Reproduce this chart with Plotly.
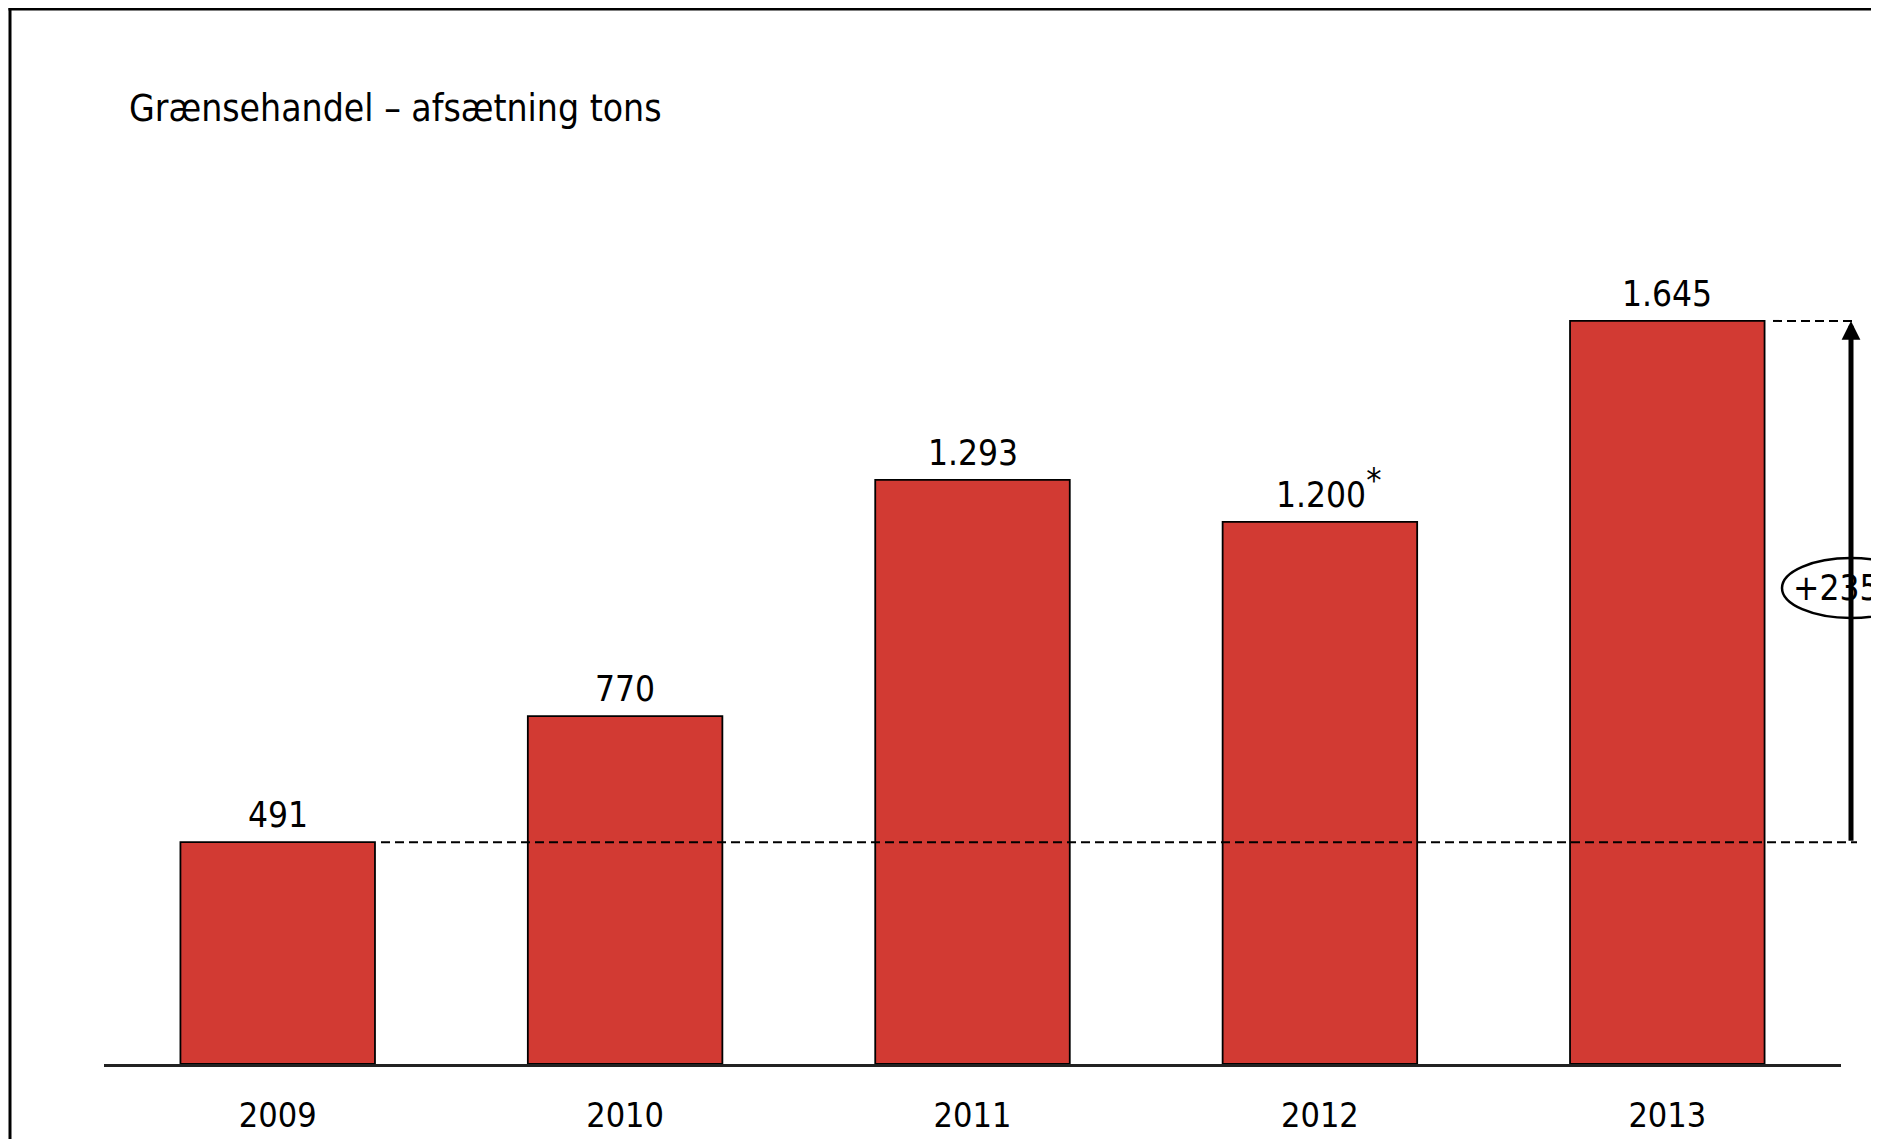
import plotly.graph_objects as go

years = ["2009", "2010", "2011", "2012", "2013"]
tons = [491, 770, 1293, 1200, 1645]
labels = ["491", "770", "1.293",
          "1.200<sup><span style='font-size:34px'>*</span></sup>", "1.645"]
label_xshift = [0, 0, 0, 9, 0]
title_text = "Grænsehandel – afsætning tons"
growth_text = "+235%"

FONT = "DejaVu Sans Condensed, Liberation Sans Narrow, Arial Narrow, sans-serif"
RED = "#D23A33"

OFF = 8  # page body margin
W, H = 1879 - OFF, 1139 - OFF
L, R, T, B = 104 - OFF, 38, 200 - OFF, 75
plot_w = W - L - R
plot_h = H - T - B

def px_x(p):
    return (p - OFF - L) / plot_w

def px_y(p):
    return (H - B - (p - OFF)) / plot_h

fig = go.Figure()
fig.add_trace(go.Bar(
    x=years, y=tons, width=0.56,
    marker=dict(color=RED, line=dict(color="black", width=1.8)),
    hoverinfo="skip",
))

ymax = 1912.8
ann = []
for i, (v, lab, xs) in enumerate(zip(tons, labels, label_xshift)):
    ann.append(dict(x=i, y=v, xref="x", yref="y", text=lab, showarrow=False,
                    yanchor="bottom", yshift=5, xshift=xs,
                    font=dict(family=FONT, size=35, color="black")))

ann.append(dict(x=px_x(127), y=px_y(109), xref="paper", yref="paper",
                text=title_text, showarrow=False, xanchor="left", yanchor="middle",
                font=dict(family=FONT, size=37, color="black")))

x_arrow = px_x(1851)
ann.append(dict(x=x_arrow, y=tons[-1], xref="paper", yref="y",
                ax=0, ay=tons[0], axref="pixel", ayref="y",
                text="", showarrow=True, arrowhead=2, arrowsize=0.75,
                arrowwidth=5, arrowcolor="black"))

shapes = [
    dict(type="line", xref="paper", yref="y", x0=px_x(381), x1=px_x(1857),
         y0=tons[0], y1=tons[0], line=dict(color="black", width=2, dash="9px,5px")),
    dict(type="line", xref="paper", yref="y", x0=px_x(1773), x1=px_x(1857),
         y0=tons[-1], y1=tons[-1], line=dict(color="black", width=2, dash="9px,5px")),
    dict(type="circle", xref="paper", yref="paper",
         x0=px_x(1782), x1=px_x(1920), y0=px_y(618), y1=px_y(558),
         fillcolor="white", line=dict(color="black", width=2.5), layer="above"),
    # frame
    dict(type="line", xref="paper", yref="paper", x0=px_x(10), x1=px_x(10),
         y0=px_y(8), y1=px_y(1145), line=dict(color="black", width=3)),
    dict(type="line", xref="paper", yref="paper", x0=px_x(8.5), x1=px_x(1885),
         y0=px_y(9), y1=px_y(9), line=dict(color="black", width=3)),
    dict(type="line", xref="paper", yref="paper", x0=px_x(1877), x1=px_x(1877),
         y0=px_y(9), y1=px_y(1145), line=dict(color="#999999", width=1)),
]

ann.append(dict(x=x_arrow, y=px_y(588), xref="paper", yref="paper",
                text=growth_text, showarrow=False, xanchor="center", yanchor="middle",
                font=dict(family=FONT, size=35, color="black")))

fig.update_layout(
    template="none",
    width=W, height=H, autosize=False,
    margin=dict(l=L, r=R, t=T, b=B, pad=0),
    paper_bgcolor="white", plot_bgcolor="white",
    showlegend=False,
    annotations=ann, shapes=shapes,
    xaxis=dict(type="category", range=[-0.5, 4.5], automargin=False,
               showgrid=False, zeroline=False,
               showline=True, linecolor="#222222", linewidth=3,
               ticks="", ticklabelstandoff=19,
               tickfont=dict(family=FONT, size=34, color="black")),
    yaxis=dict(range=[0, ymax], visible=False, showgrid=False, zeroline=False,
               automargin=False),
)

fig.write_html("out.html")
